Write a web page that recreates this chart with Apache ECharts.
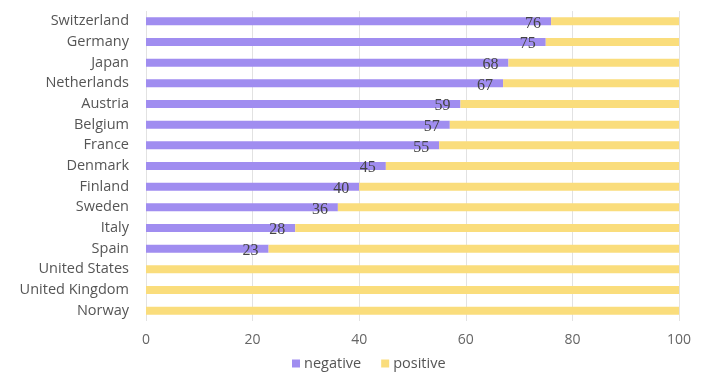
<!DOCTYPE html>
<html>
<head>
<meta charset="utf-8">
<script src="https://cdn.jsdelivr.net/npm/echarts@6/dist/echarts.min.js"></script>
<style>
  html, body { margin: 0; padding: 0; background: #fff; }
  #chart { width: 707px; height: 374px; }
</style>
</head>
<body>
<div id="chart"></div>
<script>
// Countries, listed top to bottom
const countries = ['Switzerland', 'Germany', 'Japan', 'Netherlands', 'Austria', 'Belgium', 'France',
  'Denmark', 'Finland', 'Sweden', 'Italy', 'Spain', 'United States', 'United Kingdom', 'Norway'];
// Share of negative answers (%)
const negative = [76, 75, 68, 67, 59, 57, 55, 45, 40, 36, 28, 23, 0, 0, 0];
// Share of positive answers (%)
const positive = [24, 25, 32, 33, 41, 43, 45, 55, 60, 64, 72, 77, 100, 100, 100];

const SANS = "'Open Sans', Lato, sans-serif";
const SERIF = "'Liberation Serif', 'DejaVu Serif', serif";

const chart = echarts.init(document.getElementById('chart'));
chart.setOption({
  animation: false,
  grid: { left: 146, right: 28, top: 11, bottom: 53, containLabel: false },
  legend: {
    data: ['negative', 'positive'],
    top: 351,
    left: 287,
    padding: [5, 5, 0, 5],
    itemWidth: 8,
    itemHeight: 8,
    itemGap: 20,
    icon: 'rect',
    textStyle: { fontFamily: SANS, fontSize: 14.5, color: '#555', padding: [0, 0, 0, -1] }
  },
  xAxis: {
    type: 'value',
    min: 0,
    max: 100,
    interval: 20,
    axisLine: { show: false },
    axisTick: { show: false },
    axisLabel: { fontFamily: SANS, fontSize: 14, color: '#666', margin: 12 },
    splitLine: { show: true, lineStyle: { color: '#e2e2e2', width: 1 } }
  },
  yAxis: {
    type: 'category',
    data: countries,
    inverse: true,
    axisLine: { show: false },
    axisTick: { show: false },
    axisLabel: { fontFamily: SANS, fontSize: 14.5, color: '#555', margin: 17 }
  },
  series: [
    {
      name: 'negative',
      type: 'bar',
      stack: 'total',
      data: negative,
      barWidth: 8,
      itemStyle: { color: '#a08df0' },
      label: {
        show: true,
        position: 'insideRight',
        distance: 10,
        offset: [0, 2],
        fontFamily: SERIF,
        fontSize: 16,
        color: '#444',
        formatter: p => (p.value ? String(p.value) : '')
      }
    },
    {
      name: 'positive',
      type: 'bar',
      stack: 'total',
      data: positive,
      barWidth: 8,
      itemStyle: { color: '#fadd7c' }
    }
  ]
});
</script>
</body>
</html>
